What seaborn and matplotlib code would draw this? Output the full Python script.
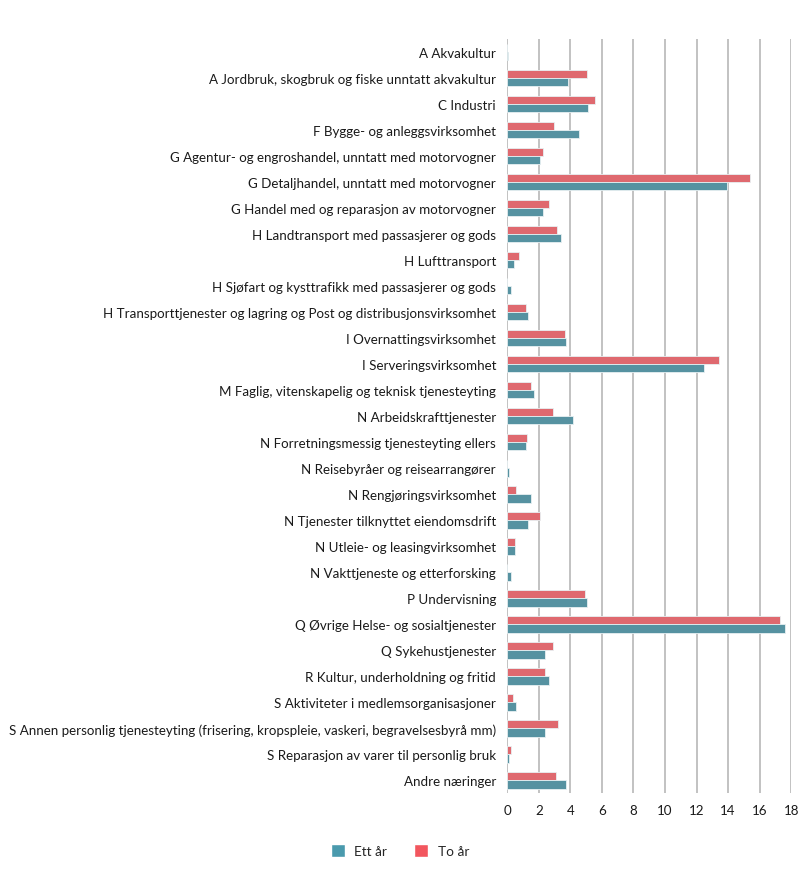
import matplotlib
matplotlib.use("Agg")
import matplotlib.pyplot as plt
import seaborn as sns
import pandas as pd
from matplotlib.patches import Patch

categories = [
    "A Akvakultur",
    "A Jordbruk, skogbruk og fiske unntatt akvakultur",
    "C Industri",
    "F Bygge- og anleggsvirksomhet",
    "G Agentur- og engroshandel, unntatt med motorvogner",
    "G Detaljhandel, unntatt med motorvogner",
    "G Handel med og reparasjon av motorvogner",
    "H Landtransport med passasjerer og gods",
    "H Lufttransport",
    "H Sjøfart og kysttrafikk med passasjerer og gods",
    "H Transporttjenester og lagring og Post og distribusjonsvirksomhet",
    "I Overnattingsvirksomhet",
    "I Serveringsvirksomhet",
    "M Faglig, vitenskapelig og teknisk tjenesteyting",
    "N Arbeidskrafttjenester",
    "N Forretningsmessig tjenesteyting ellers",
    "N Reisebyråer og reisearrangører",
    "N Rengjøringsvirksomhet",
    "N Tjenester tilknyttet eiendomsdrift",
    "N Utleie- og leasingvirksomhet",
    "N Vakttjeneste og etterforsking",
    "P Undervisning",
    "Q Øvrige Helse- og sosialtjenester",
    "Q Sykehustjenester",
    "R Kultur, underholdning og fritid",
    "S Aktiviteter i medlemsorganisasjoner",
    "S Annen personlig tjenesteyting (frisering, kropspleie, vaskeri, begravelsesbyrå mm)",
    "S Reparasjon av varer til personlig bruk",
    "Andre næringer",
]

ett_aar = [0.05, 3.88, 5.15, 4.58, 2.05, 13.9, 2.24, 3.44, 0.46, 0.27,
           1.33, 3.73, 12.5, 1.69, 4.16, 1.18, 0.13, 1.54, 1.33, 0.49,
           0.27, 5.08, 17.6, 2.38, 2.68, 0.55, 2.38, 0.10, 3.73]

to_aar = [0.0, 5.08, 5.57, 2.95, 2.24, 15.4, 2.68, 3.16, 0.76, 0.0,
          1.18, 3.65, 13.4, 1.48, 2.89, 1.27, 0.0, 0.55, 2.05, 0.49,
          0.0, 4.94, 17.3, 2.89, 2.38, 0.36, 3.25, 0.27, 3.08]

series = ["Ett år", "To år"]
colors = {"Ett år": "#4A9AAD", "To år": "#F2565E"}

df = pd.DataFrame({
    "kategori": categories * 2,
    "verdi": ett_aar + to_aar,
    "serie": ["Ett år"] * len(categories) + ["To år"] * len(categories),
})

sns.set_style("white")
plt.rcParams["font.family"] = ["Lato", "DejaVu Sans"]

fig = plt.figure(figsize=(8, 8.7), dpi=100)
ax = fig.add_axes([0.634, 0.087, 0.355, 0.867])

sns.barplot(data=df, y="kategori", x="verdi", hue="serie",
            hue_order=["To år", "Ett år"], order=categories,
            palette=colors, orient="h", width=0.64,
            edgecolor="#e8f0f2", linewidth=0.6, ax=ax, legend=False)

ax.set_xlim(0, 18)
ax.set_xticks(range(0, 19, 2))
ax.grid(axis="x", color="#b8b8b8", linewidth=1.2)
ax.set_axisbelow(True)
for s in ax.spines.values():
    s.set_visible(False)
ax.set_xlabel("")
ax.set_ylabel("")
ax.tick_params(axis="both", length=0, labelsize=9.6, colors="#1a1a1a")
ax.tick_params(axis="y", pad=8)
ax.tick_params(axis="x", pad=8)

handles = [Patch(facecolor=colors[s], label=s) for s in series]
fig.legend(handles=handles, loc="center", bbox_to_anchor=(0.5, 0.021),
           ncol=2, frameon=False, fontsize=9.8, handlelength=1.0,
           handleheight=1.0, columnspacing=2.0, handletextpad=0.7)

fig.savefig("out.png", dpi=100)
